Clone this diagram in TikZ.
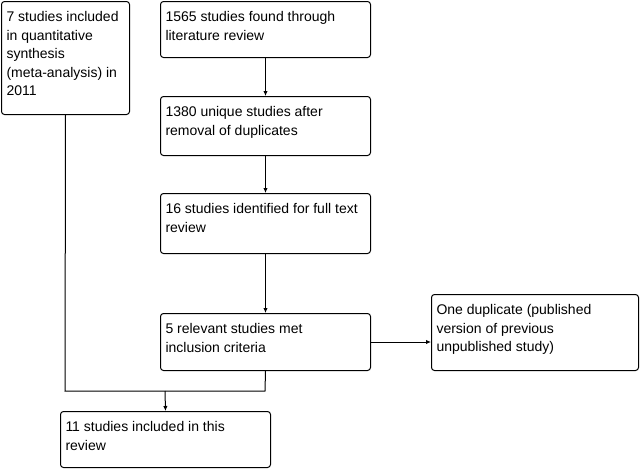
\documentclass[tikz,border=0pt]{standalone}
\usepackage{fontspec}
\setmainfont{Liberation Sans}
\usetikzlibrary{arrows.meta}
\newcommand{\bxtext}[3]{\parbox[c][\dimexpr #2pt-14pt\relax][t]{\dimexpr #1pt-10pt\relax}{\fontsize{14}{18.6}\selectfont\raggedright\strut #3}}
\newcommand{\flowbox}[6]{\node[fbox] (#1) at (#2,#3) {\bxtext{#4}{#5}{#6}};}
\tikzset{
  fbox/.style={draw, rounded corners=3pt, line width=1pt, inner xsep=5pt, inner ysep=7pt, anchor=north west, fill=white},
  conn/.style={line width=1pt},
  arr/.style={line width=1pt, -{Latex[length=5pt,width=4.5pt]}}
}
\begin{document}
\begin{tikzpicture}[x=1pt,y=-1pt]
\useasboundingbox[fill=white] (0,0) rectangle (640,469);
\flowbox{A}{1}{1}{128}{113}{7 studies included\\ in quantitative\\ synthesis\\ (meta-analysis) in\\ 2011}
\flowbox{B}{160}{1}{210}{56}{1565 studies found through\\ literature review}
\flowbox{C}{160}{96}{210}{59}{1380 unique studies after\\ removal of duplicates}
\flowbox{D}{160}{193}{210}{60}{16 studies identified for full text\\ review}
\flowbox{E}{160}{313}{210}{57}{5 relevant studies met\\ inclusion criteria}
\flowbox{F}{431}{294}{207}{76}{One duplicate (published\\ version of previous\\ unpublished study)}
\flowbox{G}{60}{411}{210}{56}{11 studies included in this\\ review}
\coordinate (ja) at (65,391);
\coordinate (je) at (265,391);
\coordinate (jg) at (165,391);
\coordinate (ef) at (370,342);
\draw[arr] (B.south) -- (C.north);
\draw[arr] (C.south) -- (D.north);
\draw[arr] (D.south) -- (E.north);
\draw[arr] (ef) -- (ef -| F.west);
\draw[conn] (A.south) -- (ja) -- (je) -- (E.south);
\draw[arr] (jg) -- (G.north);
\end{tikzpicture}
\end{document}
